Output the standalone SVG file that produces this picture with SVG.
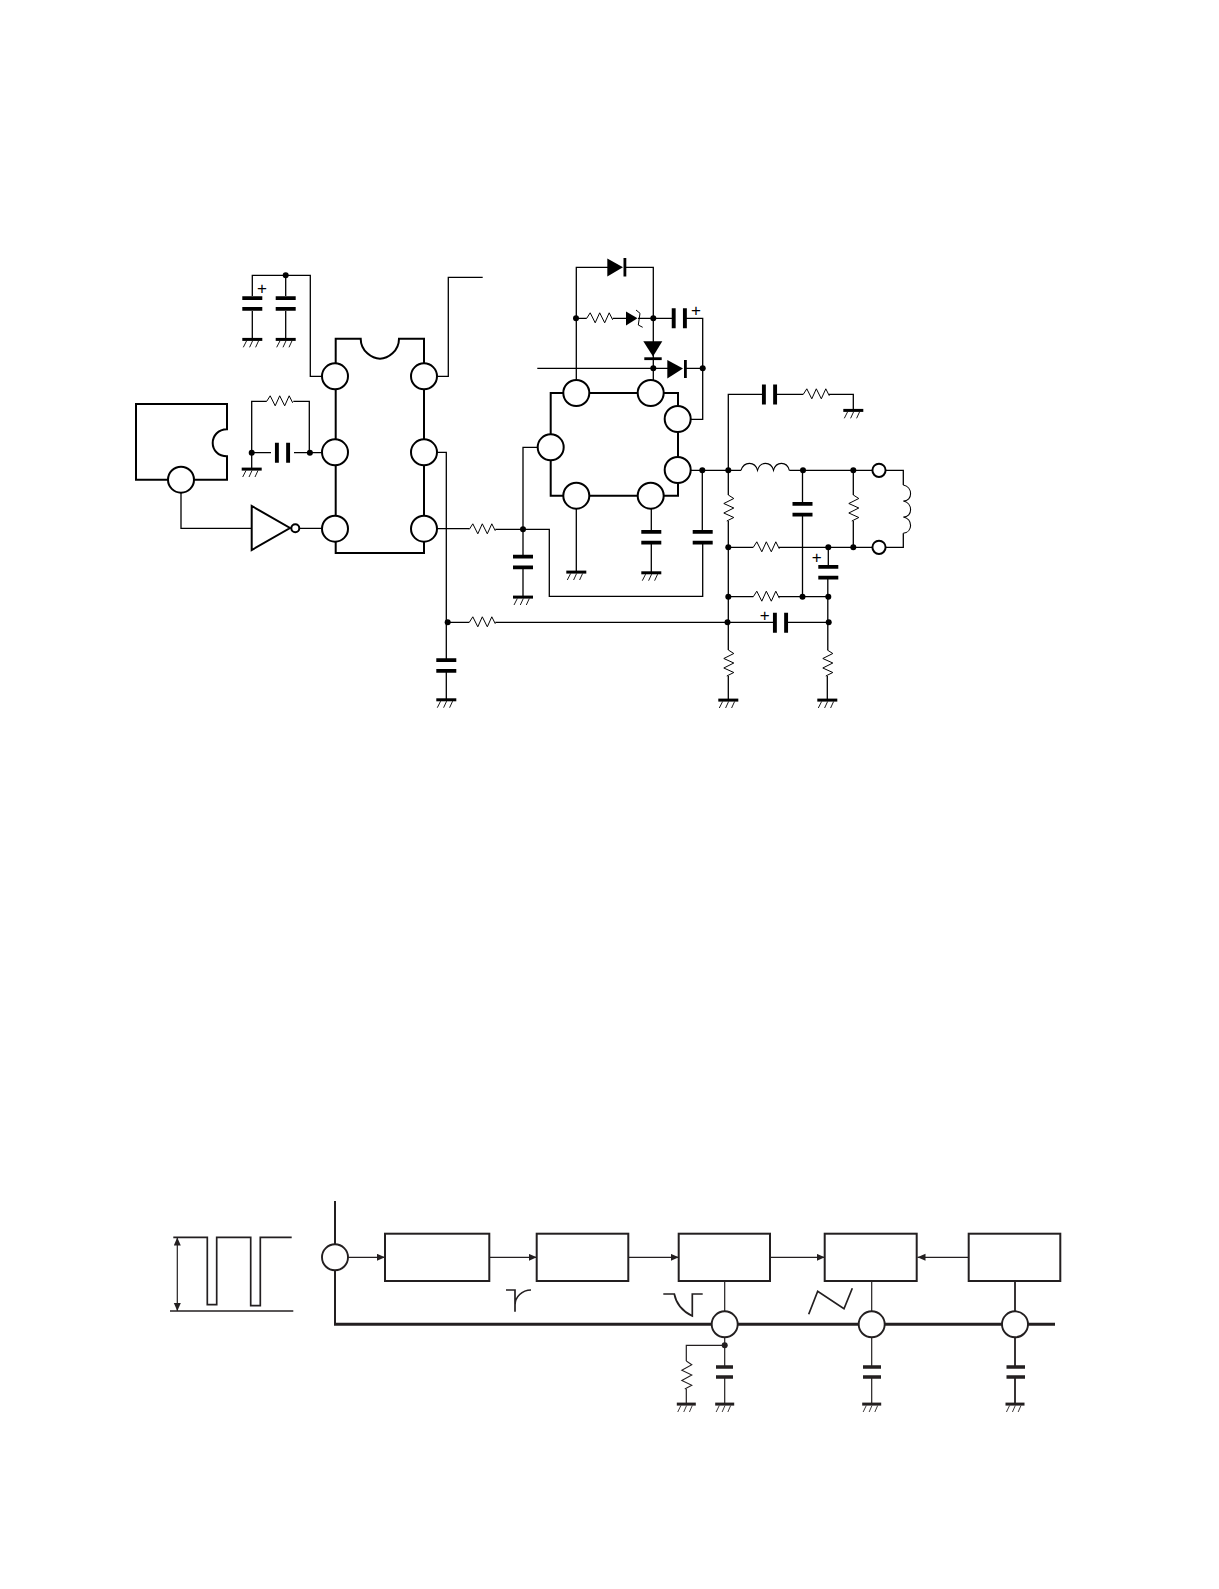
<svg xmlns="http://www.w3.org/2000/svg" width="1219" height="1589" viewBox="0 0 1219 1589">
<style>
.w{fill:none;stroke:#000;stroke-width:1.3}
.b{fill:none;stroke:#231f20;stroke-width:1.2}
.pin{fill:#fff;stroke:#000;stroke-width:2}
.bpin{fill:#fff;stroke:#231f20;stroke-width:1.9}
.body{fill:none;stroke:#000;stroke-width:2}
.box{fill:#fff;stroke:#231f20;stroke-width:2}
.j{fill:#000}
.plus{font-family:"Liberation Sans",Arial,sans-serif;font-size:17px;fill:#000;text-anchor:middle}
.wave{fill:none;stroke:#231f20;stroke-width:1.7}
</style>
<defs>
<g id="res"><path fill="none" stroke="currentColor" stroke-width="1" d="M0 0L3.5 -5.5L8.5 4.5L13 -5.5L18 4.5L22.5 -5.5L26 1.5"/></g>
<g id="gnd"><rect x="-10" y="-1.4" width="20" height="3" fill="currentColor"/><path fill="none" stroke="currentColor" stroke-width="0.9" d="M-5.7 1.5L-9 8M0.3 1.5L-2.7 8M6.3 1.5L3.3 8"/></g>
<g id="capv"><path fill="none" stroke="currentColor" stroke-width="3.7" d="M-10 -5.4H10M-10 5.4H10"/></g>
<g id="caph"><path fill="none" stroke="currentColor" stroke-width="3.9" d="M-5.6 -10V10M5.6 -10V10"/></g>
<g id="dot"><circle r="3" fill="currentColor"/></g>
<marker id="arr" markerUnits="userSpaceOnUse" markerWidth="9" markerHeight="8" refX="8" refY="3.5" orient="auto-start-reverse"><path d="M0 0L8 3.5L0 7z" fill="#231f20"/></marker>
</defs>

<g id="connectors-top" class="w">
<path d="M252.3 296V275.3H310.3V376.3H323"/>
<path d="M285.7 275.3V296M252.3 311V339M285.7 311V339"/>
<path d="M437 376.3H448.3V277.3H482.7"/>
<path d="M181 492V528.3H252M299 528.3H322"/>
<path d="M251.7 469V401.3H266.7M293.3 401.3H309.3V452.7M251.7 452.7H271M294 452.7H322"/>
<path d="M437 452.3H446.3V660M446.3 671V699.7"/>
<path d="M437 528.7H469.3M495.3 529.3H549.3V596.3H702.7V543M702.3 532V470.3"/>
<path d="M523 529.3V447.3H538M523 529.3V557M523 567.3V597"/>
<path d="M447 622.3H469.3M495.3 622.3H775M786 622.3H828.7"/>
<path d="M576.3 380V267.3H610M625 267.3H653.3V380"/>
<path d="M576.3 318.3H586.7M612.7 318.3H626M638 318.3H674M684.7 318.3H702.7V419.3H690"/>
<path d="M537.3 368.3H668M686 368.3H702.7"/>
<path d="M576.3 508V572M651.3 508V532M651.3 543V572.7"/>
<path d="M690 470.3H741M789.3 470.3H872.5M885.5 470.3H903.3V485M903.3 533.3V547.3H885.5"/>
<path d="M728.3 470.3V394.3H763.7M775.3 394.3H803.3M829 394.3H853.3V410"/>
<path d="M728.3 470.3V495M728.3 521V650M728.3 676V700"/>
<path d="M728.3 547.3H753.3M779 547.3H872.5M728.3 596.7H753.3M779 596.7H828.3"/>
<path d="M853.3 470.3V495M853.3 521V547.3"/>
<path d="M802.5 470.3V504M802.5 514.3V596.7"/>
<path d="M828.3 547.3V567M827.8 577.7V650M827.3 676V700"/>
<path fill="none" stroke-width="1.1" d="M741 470.3C744 461 755 461 757.5 470.3C760 461 771 461 773.5 470.3C776 461 787 461 789.3 470.3"/>
<path fill="none" stroke-width="1.1" d="M903.3 485C913 487 913 501 903.3 501C913 503 913 517 903.3 517C913 519 913 532 903.3 533.3"/>
</g>

<g id="connectors-bottom" class="b">
<path d="M348 1257.3H385" marker-end="url(#arr)"/>
<path d="M489.3 1257.3H536.7" marker-end="url(#arr)"/>
<path d="M628.3 1257.3H678.7" marker-end="url(#arr)"/>
<path d="M770 1257.3H824.7" marker-end="url(#arr)"/>
<path d="M968.7 1257.3H917.5" marker-end="url(#arr)"/>
<path d="M177.3 1237.5V1311" marker-start="url(#arr)" marker-end="url(#arr)"/>
<path d="M335 1201V1324.3" stroke-width="2"/>
<path d="M334 1324.3H1055" stroke-width="3"/>
<path d="M724.7 1281V1312M724.7 1337V1367M724.7 1377V1404M724.7 1345.3H686.3V1361M686.3 1389V1404"/>
<path d="M871.7 1281V1312M871.7 1337V1367M871.7 1377V1404"/>
<path d="M1015 1281V1312M1015 1337V1367M1015 1377V1404" stroke-width="1.8"/>
</g>

<g id="timer-ic">
<path class="body" d="M335.7 363V338.7H360.7C360.7 351 372 358.7 380 358.7C388 358.7 399 351 399 338.7H424V363M335.7 389V439M424 389V439M335.7 465V516M424 465V516M335.7 541V553H424V541"/>
<circle class="pin" cx="335" cy="376.3" r="13"/><circle class="pin" cx="335" cy="452.3" r="13"/><circle class="pin" cx="335" cy="528.7" r="13"/>
<circle class="pin" cx="424" cy="376.3" r="13"/><circle class="pin" cx="424" cy="452.3" r="13"/><circle class="pin" cx="424" cy="528.7" r="13"/>
</g>
<g id="source-ic">
<path class="body" d="M168 479.7H136V404H227V429.3C218 429.3 212.7 436 212.7 443C212.7 450 218 456.3 227 456.3V479.7H194"/>
<circle class="pin" cx="181" cy="479.7" r="13"/>
</g>
<g id="inverter">
<path class="body" d="M251.7 506V550L290 528z"/>
<circle class="pin" cx="295.3" cy="528.3" r="4"/>
</g>
<g id="output-ic">
<path class="body" d="M563 393H550.7V434M550.7 460V495.7H563M589.5 393H637.5M589.5 495.7H637.5M664 393H678V406M678 432V457M664 495.7H678V483"/>
<circle class="pin" cx="576.3" cy="393" r="13"/><circle class="pin" cx="650.7" cy="393" r="13"/><circle class="pin" cx="677.7" cy="419" r="13"/>
<circle class="pin" cx="677.7" cy="470" r="13"/><circle class="pin" cx="550.7" cy="447.3" r="13"/><circle class="pin" cx="576.3" cy="495.7" r="13"/><circle class="pin" cx="650.7" cy="495.7" r="13"/>
</g>
<g id="terminals">
<circle class="pin" cx="879" cy="470.3" r="6.6"/><circle class="pin" cx="879" cy="547.3" r="6.6"/>
</g>

<g id="capacitors" color="#000">
<use href="#capv" x="252.3" y="303.5"/><use href="#capv" x="285.7" y="303.5"/>
<use href="#caph" x="282.5" y="452.7"/>
<use href="#capv" x="523" y="562"/><use href="#capv" x="446.3" y="665.5"/>
<use href="#capv" x="651.3" y="537.3"/><use href="#capv" x="702.7" y="537.3"/>
<use href="#capv" x="802.5" y="509.2"/><use href="#capv" x="828.3" y="572.3"/>
<use href="#caph" x="679.3" y="318.3"/><use href="#caph" x="769.5" y="394.5"/><use href="#caph" x="780.5" y="622.8"/>
</g>
<g id="plus-marks">
<text class="plus" x="262" y="293.5">+</text>
<text class="plus" x="696" y="316">+</text>
<text class="plus" x="816.7" y="563">+</text>
<text class="plus" x="764.7" y="621">+</text>
</g>
<g id="resistors" color="#000">
<use href="#res" x="266.7" y="401.3"/><use href="#res" x="469.3" y="529.3"/><use href="#res" x="469.3" y="622.3"/>
<use href="#res" x="586.7" y="318.3"/><use href="#res" x="803.3" y="394.3"/>
<use href="#res" x="753.3" y="547.3"/><use href="#res" x="753.3" y="596.7"/>
<use href="#res" transform="translate(728.3 495) rotate(90)"/><use href="#res" transform="translate(853.3 495) rotate(90)"/>
<use href="#res" transform="translate(728.3 650) rotate(90)"/><use href="#res" transform="translate(827.3 650) rotate(90)"/>
</g>
<g id="diodes" fill="#000" stroke="none">
<path d="M607.3 258.5V276.5L623 267.3z"/><rect x="623.5" y="258" width="2.8" height="18.5"/>
<path d="M626 311.5V325.5L637.5 318.3z"/><path fill="none" stroke="#000" stroke-width="1" d="M636 310L640 313.3L638.3 325L642.7 327.3"/>
<path d="M643.3 341.3H662.3L653 356.5z"/><rect x="644.3" y="357.3" width="17.4" height="2.8"/>
<path d="M667.3 360V378.5L683 368.5z"/><rect x="684" y="360" width="2.8" height="18"/>
</g>
<g id="grounds" color="#000">
<use href="#gnd" x="252.3" y="339.3"/><use href="#gnd" x="285.7" y="339.3"/><use href="#gnd" x="251.7" y="469"/>
<use href="#gnd" x="523" y="597"/><use href="#gnd" x="576.3" y="572"/><use href="#gnd" x="651.3" y="572.7"/>
<use href="#gnd" x="446.3" y="699.7"/><use href="#gnd" x="853.3" y="410.3"/><use href="#gnd" x="728.3" y="700"/><use href="#gnd" x="827.3" y="700"/>
</g>
<g id="junctions" color="#000">
<use href="#dot" x="285.7" y="275.3"/><use href="#dot" x="251.7" y="452.7"/><use href="#dot" x="309.9" y="452.7"/>
<use href="#dot" x="523" y="529.3"/><use href="#dot" x="447.7" y="622.3"/>
<use href="#dot" x="576" y="318.3"/><use href="#dot" x="653.3" y="318.3"/><use href="#dot" x="653.3" y="368.3"/><use href="#dot" x="702.7" y="368.3"/>
<use href="#dot" x="702.3" y="470.3"/><use href="#dot" x="728.3" y="470.3"/><use href="#dot" x="803" y="470.3"/><use href="#dot" x="853.3" y="470.3"/>
<use href="#dot" x="728.3" y="547.3"/><use href="#dot" x="828.3" y="547.3"/><use href="#dot" x="853.3" y="547.3"/>
<use href="#dot" x="728.3" y="596.7"/><use href="#dot" x="802.5" y="596.7"/><use href="#dot" x="828.3" y="596.7"/>
<use href="#dot" x="727.5" y="622.3"/><use href="#dot" x="828.7" y="622.3"/>
</g>

<g id="pulse-waveform">
<path class="wave" d="M173.3 1237.3H207.3V1304.7H216.7V1237.3H250.7V1305.7H260.3V1237.3H291.7"/>
<path class="wave" d="M170 1311H293.3"/>
</g>
<g id="input-pin"><circle class="bpin" cx="335" cy="1257.3" r="13"/></g>
<g id="block-1"><rect class="box" x="385" y="1233.7" width="104.3" height="47.3"/></g>
<g id="block-2"><rect class="box" x="536.7" y="1233.7" width="91.6" height="47.3"/></g>
<g id="block-3"><rect class="box" x="678.7" y="1233.7" width="91.3" height="47.3"/></g>
<g id="block-4"><rect class="box" x="824.7" y="1233.7" width="92" height="47.3"/></g>
<g id="block-5"><rect class="box" x="968.7" y="1233.7" width="91.6" height="47.3"/></g>
<g id="bus-pins">
<circle class="bpin" cx="724.7" cy="1324.3" r="13"/><circle class="bpin" cx="871.7" cy="1324.3" r="13"/><circle class="bpin" cx="1015" cy="1324.3" r="13"/>
</g>
<g id="waveforms">
<path class="wave" d="M506 1290H515V1311.7M515 1305C515 1297 522 1290 531 1290"/>
<path class="wave" d="M663.3 1294H674.3C676 1303 682 1311 692.3 1316V1294H702.7"/>
<path class="wave" d="M808.7 1314.3L817.7 1291.3L844 1308.7L852.3 1288.3"/>
</g>
<g id="bottom-parts" color="#231f20">
<use href="#dot" x="724.7" y="1345.3"/>
<path fill="none" stroke="#231f20" stroke-width="3.4" d="M716 1367H733M716 1377H733M863 1367H881M863 1377H881M1006.5 1367H1025M1006.5 1377H1025"/>
<use href="#res" transform="translate(686.3 1361) rotate(90) scale(1.08 1)"/>
<use href="#gnd" transform="translate(686.3 1404) scale(.95 1)"/><use href="#gnd" transform="translate(724.7 1404) scale(.95 1)"/><use href="#gnd" transform="translate(871.7 1404) scale(.95 1)"/><use href="#gnd" transform="translate(1015 1404) scale(.95 1)"/>
</g>
</svg>
